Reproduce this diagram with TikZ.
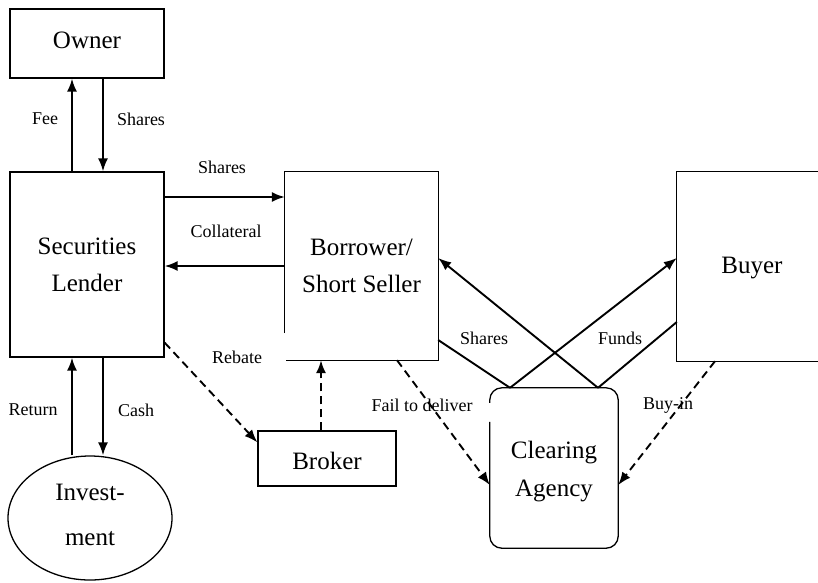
\documentclass[tikz,border=0pt]{standalone}
\usepackage{fontspec}
\setmainfont{Liberation Serif}
\usetikzlibrary{arrows.meta,shapes.geometric}
\begin{document}
\begin{tikzpicture}[x=1pt,y=-1pt,
  bx/.style={line width=1.3pt},
  box/.style={draw,line width=1.3pt,inner sep=0pt},
  txt/.style={inner sep=0pt,align=center,font=\fontsize{25}{37}\selectfont},
  lab/.style={inner sep=0pt,font=\fontsize{18}{20}\selectfont},
  arr/.style={line width=1.9pt,-{Latex[length=13pt,width=10pt]}},
  ln/.style={line width=1.9pt},
  dsh/.style={line width=1.9pt,dash pattern=on 8pt off 5pt,-{Latex[length=13pt,width=10pt]}},
]
\useasboundingbox (0,0) rectangle (818,582);

% shapes
\node[box,minimum width=154pt,minimum height=69pt] (own) at (87,43.5) {};
\node[box,minimum width=154pt,minimum height=185pt] (lend) at (87,264.5) {};
\node[inner sep=0pt,minimum width=153pt,minimum height=188pt] (bor) at (361.5,266) {};
\node[inner sep=0pt,minimum width=141pt,minimum height=189pt] (buy) at (747.5,266.5) {};
\node[box,minimum width=138pt,minimum height=55pt] (brk) at (327,458.5) {};
\node[inner sep=0pt,minimum width=128pt,minimum height=160pt] (ca) at (554,468) {};
\node[ellipse,box,minimum width=164pt,minimum height=124pt] (inv) at (90,518) {};

% texts
\node[txt] (ownt) at (87,40) {Owner};
\node[txt] (lendt) at (87,265) {Securities\\Lender};
\node[txt] (bort) at (361.5,266) {Borrower/\\Short Seller};
\node[txt] (buyt) at (752,268) {Buyer};
\node[txt] (brkt) at (327,461) {Broker};
\node[txt,font=\fontsize{25}{38}\selectfont] (cat) at (554,472) {Clearing\\Agency};
\node[txt,font=\fontsize{25}{45}\selectfont] (invt) at (90,515) {Invest-\\ment};

% box outlines drawn by hand
\draw[bx] ([yshift=27pt]bor.south west) -- (bor.north west) -- (bor.north east) -- (bor.south east) -- ([xshift=1pt]bor.south west);
\draw[bx] (buy.north east) -- (buy.north west) -- (buy.south west) -- (buy.south east);
\draw[bx,rounded corners=12pt] ([yshift=-34pt]ca.north west) -- (ca.south west) -- (ca.south east) -- (ca.north east) -- (ca.north west) -- ([yshift=-15pt]ca.north west);

% helper coordinates
\coordinate (rtn) at ([xshift=-15pt]lend.south);
\coordinate (csh) at ([xshift=16pt]lend.south);

% owner <-> lender
\draw[arr] ([xshift=-15pt]lend.north) -- ([xshift=-15pt]own.south);
\draw[arr] ([xshift=16pt]own.south) -- ([xshift=16pt]lend.north);
% lender <-> investment
\draw[arr] (inv.north -| rtn) -- (rtn);
\draw[arr] (csh) -- (inv.north -| csh);
% lender <-> borrower
\draw[arr] ([yshift=67.5pt]lend.east) -- ([yshift=67.5pt]lend.east -| bor.west);
\draw[arr] (bor.west) -- (bor.west -| lend.east);
% rebate
\draw[dsh] ([yshift=15pt]lend.south east) -- ([yshift=-12pt]brk.north west);
% broker -> borrower
\draw[dsh] ([xshift=-6pt]brk.north) -- ([xshift=-6pt]brk.north |- bor.south);
% fail to deliver, buy-in
\draw[dsh] ([xshift=35.5pt]bor.south) -- ([yshift=-17pt]ca.west);
\draw[dsh] ([xshift=-32.5pt]buy.south) -- ([yshift=-17pt]ca.east);
% cross lines
\draw[ln] ([yshift=-74pt]bor.east) -- ([xshift=-44pt]ca.north);
\draw[arr] ([xshift=44pt]ca.north) -- ([yshift=8pt]bor.east);
\draw[arr] ([xshift=-44pt]ca.north) -- ([yshift=8.5pt]buy.west);
\draw[ln] ([xshift=44pt]ca.north) -- ([yshift=-55.5pt]buy.west);

% labels
\node[lab] (l1) at (45,119) {Fee};
\node[lab] (l2) at (141,119) {Shares};
\node[lab] (l3) at (222,167) {Shares};
\node[lab] (l4) at (226,231) {Collateral};
\node[lab] (l5) at (33,410) {Return};
\node[lab] (l6) at (136,410) {Cash};
\node[lab] (l7) at (237,357) {Rebate};
\node[lab] (l8) at (422,405) {Fail to deliver};
\node[lab] (l9) at (484,338) {Shares};
\node[lab] (l10) at (620,338) {Funds};
\node[lab] (l11) at (668,405) {Buy-in};
\end{tikzpicture}
\end{document}
